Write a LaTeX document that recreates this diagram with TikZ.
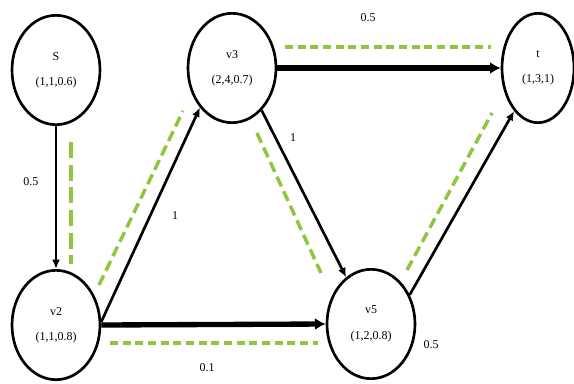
\documentclass[tikz,border=0pt]{standalone}
\usepackage{fontspec}
\setmainfont{Liberation Serif}
\usepackage{xcolor}
\usepackage{tikz}
\usetikzlibrary{arrows.meta}
\usetikzlibrary{shapes,arrows,positioning}
\definecolor{greenPath}{HTML}{8DC63F}
\tikzset{>=latex}
\tikzset{graph-node/.style={draw, ellipse, line width=2pt, minimum width=66pt, minimum height=82pt, inner sep=0, align=center, font=\small}}
\tikzset{edge-line/.style={-{Latex[length=7pt, width=6pt]}, line width=2pt}}
\tikzset{thin-line/.style={edge-line, line width=1.4pt}}
\tikzset{heavy-line/.style={-{Latex[length=8pt, width=9pt]}, line width=4pt}}
\tikzset{green-path/.style={color=greenPath, line width=2.6pt, dash pattern=on 8pt off 4pt}}
\tikzset{green-dots/.style={green-path, line width=3.2pt, dash pattern=on 6pt off 3.5pt}}
\tikzset{weight/.style={font=\small, inner sep=1pt}}

\begin{document}
\begin{tikzpicture}[x=0.75pt, y=-0.75pt]
    \useasboundingbox (0,0) rectangle (574,383);

    \node[graph-node] (S) at (56,70) {S\\[8pt](1,1,0.6)};
    \node[graph-node] (v3) at (232,68) {v3\\[8pt](2,4,0.7)};
    \node[graph-node, minimum width=54pt] (t) at (538,68) {t\\[8pt](1,3,1)};
    \node[graph-node] (v2) at (56,325) {v2\\[8pt](1,1,0.8)};
    \node[graph-node] (v5) at (371,324) {v5\\[8pt](1,2,0.8)};

    % highlighted path
    \draw[green-path, dash pattern=on 12pt off 5pt] (71,142) -- (71,264);
    \draw[green-path] (99,285) -- (183,111);
    \draw[green-dots] (110,343) -- (318,343);
    \draw[green-dots] (285,47) -- (491,47);
    \draw[green-path] (257,133) -- (321,273);
    \draw[green-path] (407,270) -- (492,113);

    \draw[thin-line] (S) -- (v2);
    \draw[edge-line] (v2.4) -- (v3.231);
    \draw[heavy-line] (v2.east) -- (v5.west);
    \draw[heavy-line] (v3.east) -- (t.west);
    \draw[edge-line] (v3.305) -- (v5.118);
    \draw[edge-line] (v5.37) -- (t.241);

    \node[weight] (w1) at (31,182) {0.5};
    \node[weight] (w2) at (175,216) {1};
    \node[weight] (w3) at (207,368) {0.1};
    \node[weight] (w4) at (368,18) {0.5};
    \node[weight] (w5) at (293,138) {1};
    \node[weight] (w6) at (431,345) {0.5};
\end{tikzpicture}
\end{document}
